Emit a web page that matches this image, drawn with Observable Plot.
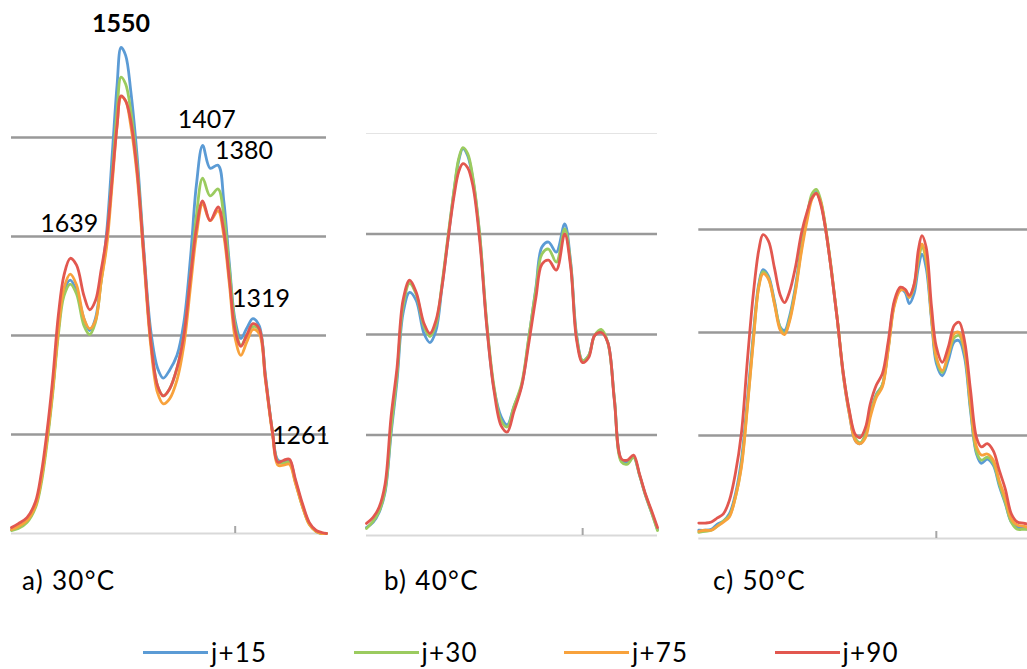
<!DOCTYPE html>
<html>
<head>
<meta charset="utf-8">
<script src="https://cdn.jsdelivr.net/npm/d3@7"></script>
<script src="https://cdn.jsdelivr.net/npm/@observablehq/plot@0.6"></script>
<style>
html, body { margin: 0; padding: 0; background: #fff; }
#root { position: relative; width: 1027px; height: 669px; overflow: hidden; font-family: Lato, "Open Sans", sans-serif; color: #000; }
.panel { position: absolute; top: 0; }
.title { position: absolute; top: 568px; font-size: 26px; line-height: 25px; letter-spacing: 1.3px; white-space: pre; }
.legitem { position: absolute; top: 639px; height: 26px; display: flex; align-items: center; }
.legline { width: 65px; height: 3px; margin-right: 3px; }
.legtext { font-size: 26px; line-height: 26px; letter-spacing: 1.2px; }
</style>
</head>
<body>
<div id="root"></div>
<script>
// ---------- series & legend ----------
const SERIES = ["j+15", "j+30", "j+75", "j+90"];
const COLORS = ["#5B9BD5", "#9BCB5F", "#F8A23C", "#E2574F"];
const TITLES = ["a) 30°C", "b) 40°C", "c) 50°C"];
const TICK_W = [1350];

// ---------- panel a (30 °C) ----------
const W_A = [1742,1730,1715,1700,1690,1680,1670,1660,1650,1639,
             1628,1615,1605,1595,1585,1575,1565,1557,1550,1542,
             1533,1522,1510,1498,1486,1476,1465,1452,1440,1428,
             1418,1407,1394,1380,1370,1360,1350,1340,1330,1319,
             1308,1297,1285,1275,1265,1255,1245,1232,1220,1208,
             1198,1190];
const A_J15 = [0.04,0.07,0.13,0.28,0.54,0.94,1.44,2.05,2.45,2.56,
               2.45,2.17,2.05,2.17,2.56,3.06,3.87,4.53,4.91,4.83,
               4.47,3.82,2.86,2.05,1.67,1.57,1.65,1.80,2.13,2.81,
               3.52,3.92,3.69,3.72,3.36,2.71,2.15,1.97,2.07,2.17,
               2.10,1.60,1.04,0.74,0.73,0.74,0.54,0.28,0.10,0.02,
               0.00,0.00];
const A_J30 = [0.03,0.05,0.11,0.26,0.50,0.90,1.40,2.00,2.40,2.52,
               2.42,2.10,2.01,2.13,2.54,2.96,3.67,4.27,4.61,4.54,
               4.27,3.72,2.81,1.95,1.49,1.39,1.46,1.67,2.00,2.61,
               3.21,3.59,3.41,3.48,3.21,2.66,2.10,1.90,2.00,2.09,
               2.06,1.57,1.04,0.72,0.71,0.72,0.53,0.27,0.09,0.02,
               0.00,0.00];
const A_J75 = [0.04,0.07,0.13,0.28,0.54,0.94,1.44,2.05,2.48,2.62,
               2.51,2.17,2.07,2.15,2.54,2.91,3.57,4.12,4.41,4.37,
               4.12,3.62,2.76,1.90,1.42,1.31,1.36,1.55,1.90,2.51,
               3.01,3.33,3.16,3.26,3.01,2.51,1.97,1.80,1.93,2.06,
               2.02,1.55,1.02,0.69,0.69,0.70,0.52,0.27,0.09,0.02,
               0.00,0.00];
const A_J90 = [0.06,0.10,0.16,0.32,0.60,1.02,1.55,2.20,2.61,2.78,
               2.71,2.40,2.26,2.35,2.66,3.01,3.62,4.12,4.42,4.37,
               4.17,3.67,2.81,1.95,1.49,1.39,1.46,1.67,2.00,2.61,
               3.08,3.36,3.16,3.30,3.06,2.56,2.05,1.89,2.00,2.12,
               2.07,1.57,1.04,0.72,0.74,0.75,0.56,0.30,0.11,0.03,
               0.01,0.00];
const GRID_A = [1, 2, 3, 4];
const PEAKS_A = [1639, 1550, 1407, 1380, 1319, 1261];

// ---------- panel b (40 °C) ----------
const W_B = [1711,1700,1690,1680,1670,1660,1650,1639,1628,1615,
             1605,1595,1585,1575,1565,1557,1550,1542,1533,1522,
             1510,1498,1486,1476,1465,1452,1440,1428,1418,1407,
             1394,1380,1370,1360,1350,1340,1330,1319,1308,1297,
             1285,1275,1265,1255,1245,1235,1225];
const B_J15 = [0.08,0.13,0.23,0.43,1.01,1.54,2.21,2.42,2.34,2.01,
               1.92,2.04,2.47,2.94,3.42,3.73,3.85,3.78,3.53,2.99,
               2.09,1.46,1.18,1.10,1.28,1.49,1.96,2.47,2.87,2.92,
               2.82,3.10,2.72,1.99,1.74,1.79,1.99,2.03,1.92,1.36,
               0.75,0.73,0.78,0.60,0.40,0.23,0.06];
const B_J30 = [0.07,0.14,0.24,0.45,1.05,1.60,2.28,2.51,2.40,2.08,
               1.98,2.10,2.50,2.97,3.43,3.75,3.86,3.80,3.55,3.00,
               2.11,1.48,1.14,1.08,1.28,1.51,1.97,2.45,2.80,2.85,
               2.72,3.05,2.70,1.97,1.74,1.79,1.99,2.05,1.92,1.36,
               0.73,0.71,0.78,0.60,0.40,0.23,0.05];
const B_J90 = [0.12,0.18,0.28,0.51,1.18,1.67,2.34,2.54,2.42,2.11,
               2.01,2.14,2.47,2.94,3.37,3.62,3.70,3.66,3.47,2.94,
               2.07,1.44,1.09,1.03,1.23,1.48,1.91,2.37,2.70,2.74,
               2.64,3.00,2.67,1.94,1.72,1.77,1.99,2.02,1.92,1.34,
               0.76,0.75,0.80,0.61,0.41,0.25,0.08];
const GRID_B = [1, 2, 3];
const FAINT_B = [4];

// ---------- panel c (50 °C) ----------
const W_C = [1746,1735,1725,1715,1705,1695,1685,1675,1665,1655,
             1646,1639,1630,1620,1610,1603,1595,1585,1575,1565,
             1557,1550,1543,1535,1525,1515,1505,1495,1485,1477,
             1468,1460,1450,1440,1430,1420,1410,1402,1395,1387,
             1380,1374,1367,1358,1350,1340,1330,1320,1312,1303,
             1293,1283,1275,1265,1255,1245,1235,1225,1215,1205,
             1198];
const C_J15 = [0.08,0.08,0.09,0.14,0.17,0.24,0.43,0.76,1.34,1.99,
               2.47,2.61,2.55,2.31,2.05,2.02,2.15,2.44,2.83,3.15,
               3.32,3.36,3.27,3.02,2.60,2.12,1.58,1.21,0.95,0.92,
               1.01,1.21,1.40,1.49,1.86,2.28,2.42,2.39,2.28,2.38,
               2.63,2.76,2.63,2.12,1.70,1.58,1.73,1.91,1.92,1.76,
               1.24,0.82,0.73,0.77,0.71,0.51,0.34,0.16,0.11,0.10,
               0.09];
const C_J30 = [0.06,0.07,0.08,0.12,0.17,0.22,0.40,0.71,1.29,1.94,
               2.45,2.59,2.53,2.29,2.04,1.99,2.12,2.41,2.81,3.15,
               3.35,3.39,3.29,3.04,2.62,2.13,1.60,1.23,0.97,0.93,
               1.01,1.21,1.39,1.49,1.86,2.28,2.42,2.41,2.34,2.44,
               2.70,2.83,2.70,2.15,1.74,1.61,1.78,1.95,1.97,1.81,
               1.27,0.84,0.76,0.79,0.73,0.53,0.35,0.16,0.09,0.09,
               0.09];
const C_J75 = [0.07,0.08,0.08,0.12,0.16,0.21,0.40,0.69,1.27,1.92,
               2.44,2.57,2.52,2.28,2.02,1.98,2.10,2.39,2.78,3.10,
               3.30,3.35,3.27,3.02,2.60,2.12,1.58,1.21,0.95,0.92,
               0.98,1.18,1.37,1.47,1.84,2.26,2.41,2.41,2.34,2.46,
               2.73,2.86,2.73,2.15,1.76,1.63,1.79,1.99,2.00,1.84,
               1.31,0.89,0.81,0.82,0.76,0.56,0.39,0.19,0.13,0.12,
               0.11];
const C_J90 = [0.15,0.15,0.16,0.20,0.24,0.37,0.63,1.02,1.73,2.38,
               2.80,2.95,2.89,2.63,2.36,2.29,2.39,2.63,2.96,3.18,
               3.31,3.35,3.25,3.02,2.60,2.12,1.60,1.24,1.01,0.98,
               1.08,1.31,1.49,1.60,1.92,2.31,2.44,2.42,2.36,2.47,
               2.80,2.94,2.83,2.25,1.86,1.71,1.86,2.07,2.10,1.92,
               1.44,0.98,0.89,0.92,0.85,0.66,0.48,0.24,0.16,0.15,
               0.14];
const GRID_C = [1, 2, 3];

// ---------- layout (not data) ----------
const LABEL_OFFSETS = {1639: [-1, -26], 1550: [0, -15], 1407: [4, -17], 1380: [26, -6], 1319: [8, -12], 1261: [15, -16]};

const PANELS = [
  {title: TITLES[0], w: W_A, values: {"j+15": A_J15, "j+30": A_J30, "j+75": A_J75, "j+90": A_J90},
   grid: GRID_A, faint: [], peaks: PEAKS_A,
   left: 0, width: 340, height: 545, ml: 11, mr: 14, mt: 10, mb: 12,
   xDomain: [1742, 1190], yTop: 5.283, titleLeft: 22},
  {title: TITLES[1], w: W_B, values: {"j+15": B_J15, "j+30": B_J30, "j+90": B_J90},
   grid: GRID_B, faint: FAINT_B, peaks: [],
   left: 340, width: 330, height: 547, ml: 26, mr: 13, mt: 10, mb: 12,
   xDomain: [1711, 1225], yTop: 5.224, titleLeft: 384},
  {title: TITLES[2], w: W_C, values: {"j+15": C_J15, "j+30": C_J30, "j+75": C_J75, "j+90": C_J90},
   grid: GRID_C, faint: [], peaks: [],
   left: 680, width: 347, height: 550, ml: 18.3, mr: 0, mt: 10, mb: 12,
   xDomain: [1746, 1198], yTop: 5.126, titleLeft: 713}
];

const root = document.getElementById("root");

function peakValue(p, w, values) {
  const i = d3.minIndex(w, d => Math.abs(d - p));
  return d3.max(Object.values(values), arr => arr[i]);
}

for (const P of PANELS) {
  const unit = (P.height - P.mt - P.mb) / P.yTop;
  const marks = [
    Plot.ruleY(P.faint, {stroke: "#E4E4E4", strokeWidth: 1}),
    Plot.ruleY(P.grid, {stroke: "#999999", strokeWidth: 2.4}),
    Plot.ruleY([0], {stroke: "#D9D9D9", strokeWidth: 2}),
    Plot.ruleX(TICK_W, {y1: 0, y2: 7 / unit, stroke: "#A6A6A6", strokeWidth: 2})
  ];
  SERIES.forEach((name, si) => {
    const vals = P.values[name];
    if (!vals) return;
    const rows = P.w.map((w, i) => ({w, v: vals[i]}));
    marks.push(Plot.line(rows, {x: "w", y: "v", stroke: COLORS[si], strokeWidth: 2.8, curve: "catmull-rom"}));
  });
  for (const p of P.peaks) {
    const [dx, dy] = LABEL_OFFSETS[p];
    marks.push(Plot.text([p], {
      x: d => d, y: d => peakValue(d, P.w, P.values), text: d => String(d),
      dx, dy, lineAnchor: "bottom", textAnchor: "middle",
      fontSize: 25, fontFamily: "Lato", fontWeight: p === 1550 ? "bold" : "normal", fill: "#000"
    }));
  }
  const svg = Plot.plot({
    width: P.width, height: P.height,
    marginLeft: P.ml, marginRight: P.mr, marginTop: P.mt, marginBottom: P.mb,
    x: {domain: P.xDomain, axis: null},
    y: {domain: [0, P.yTop], axis: null},
    style: {background: "transparent", overflow: "visible"},
    marks
  });
  const div = document.createElement("div");
  div.className = "panel";
  div.style.left = P.left + "px";
  div.appendChild(svg);
  root.appendChild(div);

  const t = document.createElement("div");
  t.className = "title";
  t.style.left = P.titleLeft + "px";
  t.textContent = P.title;
  root.appendChild(t);
}

// legend
SERIES.forEach((name, i) => {
  const item = document.createElement("div");
  item.className = "legitem";
  item.style.left = (143 + i * 210.5) + "px";
  const line = document.createElement("div");
  line.className = "legline";
  line.style.background = COLORS[i];
  const txt = document.createElement("span");
  txt.className = "legtext";
  txt.textContent = name;
  item.appendChild(line);
  item.appendChild(txt);
  root.appendChild(item);
});
</script>
</body>
</html>
